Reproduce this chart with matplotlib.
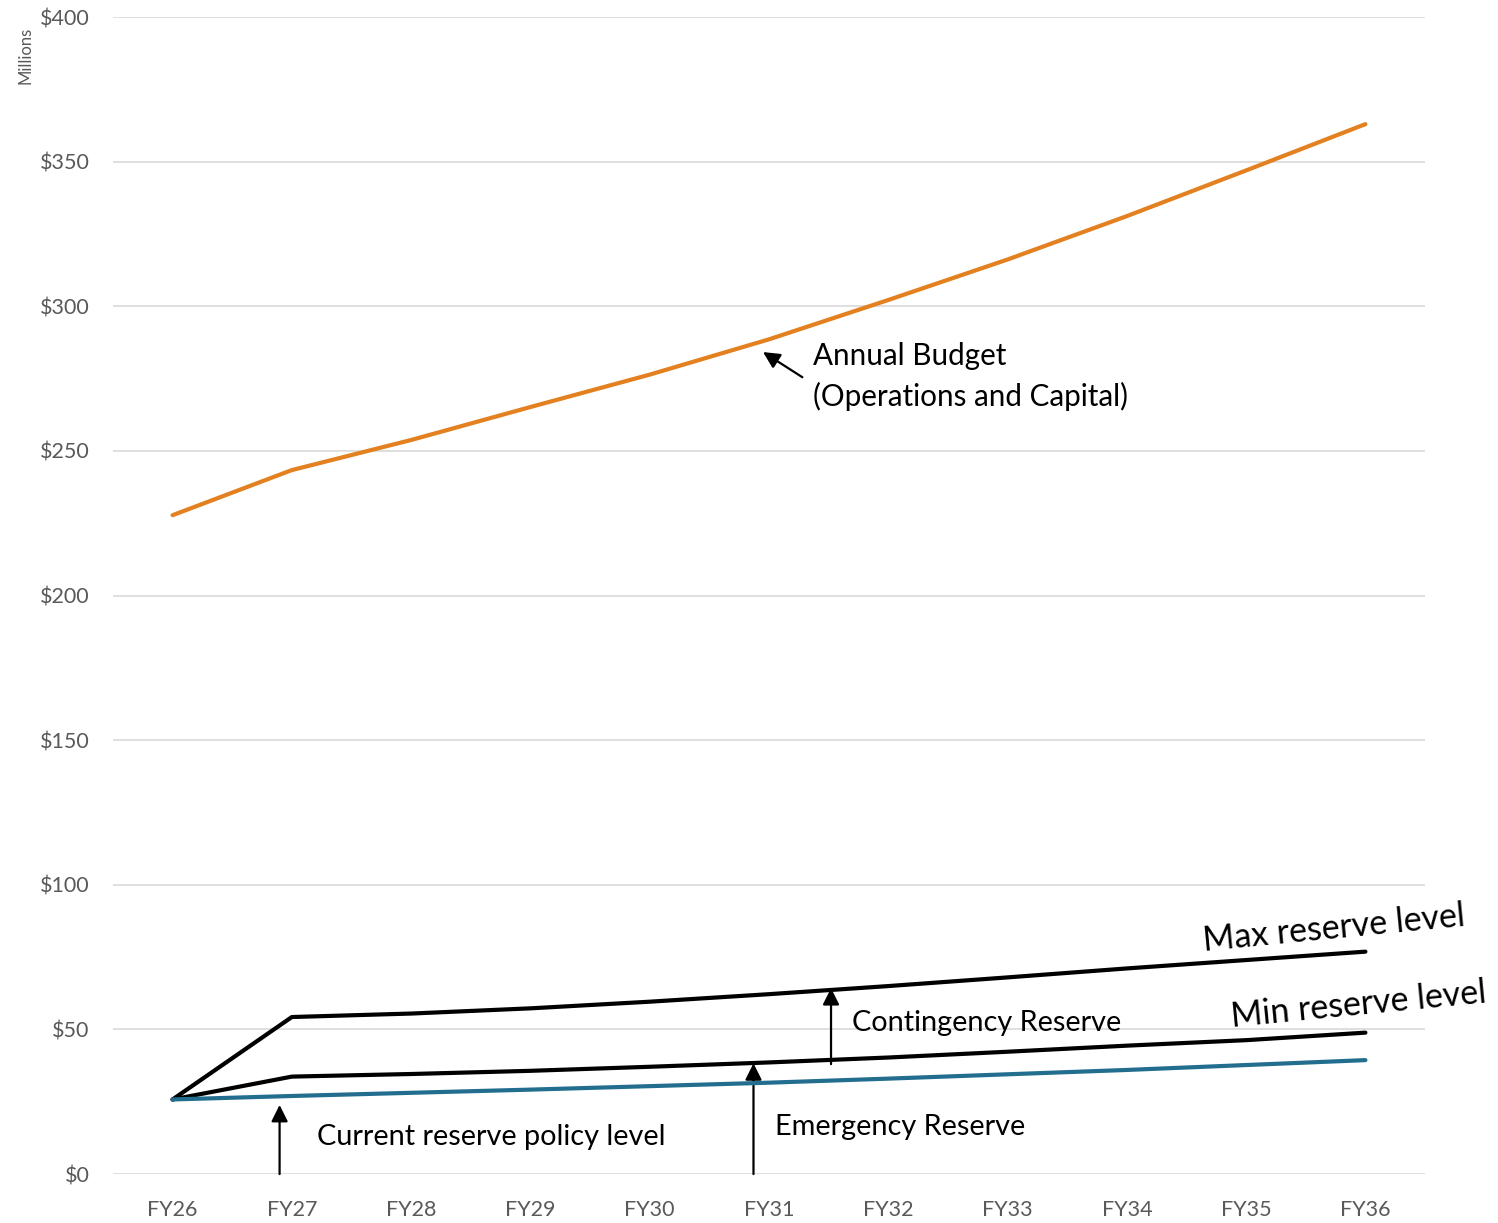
import matplotlib
matplotlib.use("Agg")
import matplotlib.pyplot as plt

plt.rcParams["font.family"] = ["Lato", "DejaVu Sans"]

years = ["FY26", "FY27", "FY28", "FY29", "FY30", "FY31",
         "FY32", "FY33", "FY34", "FY35", "FY36"]

# $ millions
annual_budget = [227.8, 243.4, 253.8, 265.2, 276.4, 288.6, 302.2, 316.2, 331.2, 347.0, 363.0]
max_reserve = [25.8, 54.3, 55.5, 57.3, 59.6, 62.2, 65.0, 68.0, 71.1, 74.0, 76.9]
min_reserve = [25.8, 33.7, 34.6, 35.7, 37.1, 38.6, 40.3, 42.3, 44.4, 46.3, 48.9]
current_policy = [25.8, 27.0, 28.1, 29.2, 30.4, 31.6, 33.0, 34.5, 36.0, 37.7, 39.4]

y_ticks = [0, 50, 100, 150, 200, 250, 300, 350, 400]

fig = plt.figure(figsize=(14.98, 12.23), dpi=100)
ax = fig.add_axes([0.0754, 0.040, 0.8759, 0.946])

x = list(range(len(years)))
ax.plot(x, annual_budget, color="#E3801F", linewidth=3, solid_capstyle="round", zorder=3)
ax.plot(x, max_reserve, color="black", linewidth=3, solid_capstyle="round", zorder=3)
ax.plot(x, min_reserve, color="black", linewidth=3, solid_capstyle="round", zorder=3)
ax.plot(x, current_policy, color="#236D8F", linewidth=3, solid_capstyle="round", zorder=4)

ax.set_xlim(-0.5, 10.5)
ax.set_ylim(0, 400)
ax.set_xticks(x)
ax.set_xticklabels(years)
ax.set_yticks(y_ticks)
ax.set_yticklabels([f"${v}" for v in y_ticks])
ax.tick_params(axis="both", length=0, colors="#595959", labelsize=15.5)
ax.tick_params(axis="x", pad=19)
ax.tick_params(axis="y", pad=17)
for s in ax.spines.values():
    s.set_visible(False)
ax.grid(axis="y", color="#d9d9d9", linewidth=1.2)
ax.set_axisbelow(True)

fig.text(0.017, 0.955, "Millions", rotation=90, color="#595959",
         fontsize=12, ha="center", va="center")

arrow = dict(arrowstyle="-|>", color="black", lw=1.6, mutation_scale=25,
             shrinkA=0, shrinkB=0)

# budget callout
ax.annotate("", xy=(4.95, 284.2), xytext=(5.28, 275.5), arrowprops=arrow)
ax.text(5.365, 287.8, "Annual Budget\n(Operations and Capital)", fontsize=21.3,
        ha="left", va="top", linespacing=1.5)

# reserve band arrows
ax.annotate("", xy=(0.897, 23.9), xytext=(0.897, 0), arrowprops=arrow)
ax.annotate("", xy=(4.87, 38.3), xytext=(4.87, 0), arrowprops=arrow)
ax.annotate("", xy=(5.52, 64.3), xytext=(5.52, 38.0), arrowprops=arrow)

ax.text(1.207, 12.8, "Current reserve policy level", fontsize=20.8, ha="left", va="center")
ax.text(5.05, 16.2, "Emergency Reserve", fontsize=20.8, ha="left", va="center")
ax.text(5.70, 52.2, "Contingency Reserve", fontsize=20.8, ha="left", va="center")

ax.text(8.65, 77.2, "Max reserve level", fontsize=24.5, rotation=5.5,
        rotation_mode="anchor", ha="left", va="baseline")
ax.text(8.885, 50.7, "Min reserve level", fontsize=24.5, rotation=5.5,
        rotation_mode="anchor", ha="left", va="baseline")

fig.savefig("out.png", dpi=100, facecolor="white")
